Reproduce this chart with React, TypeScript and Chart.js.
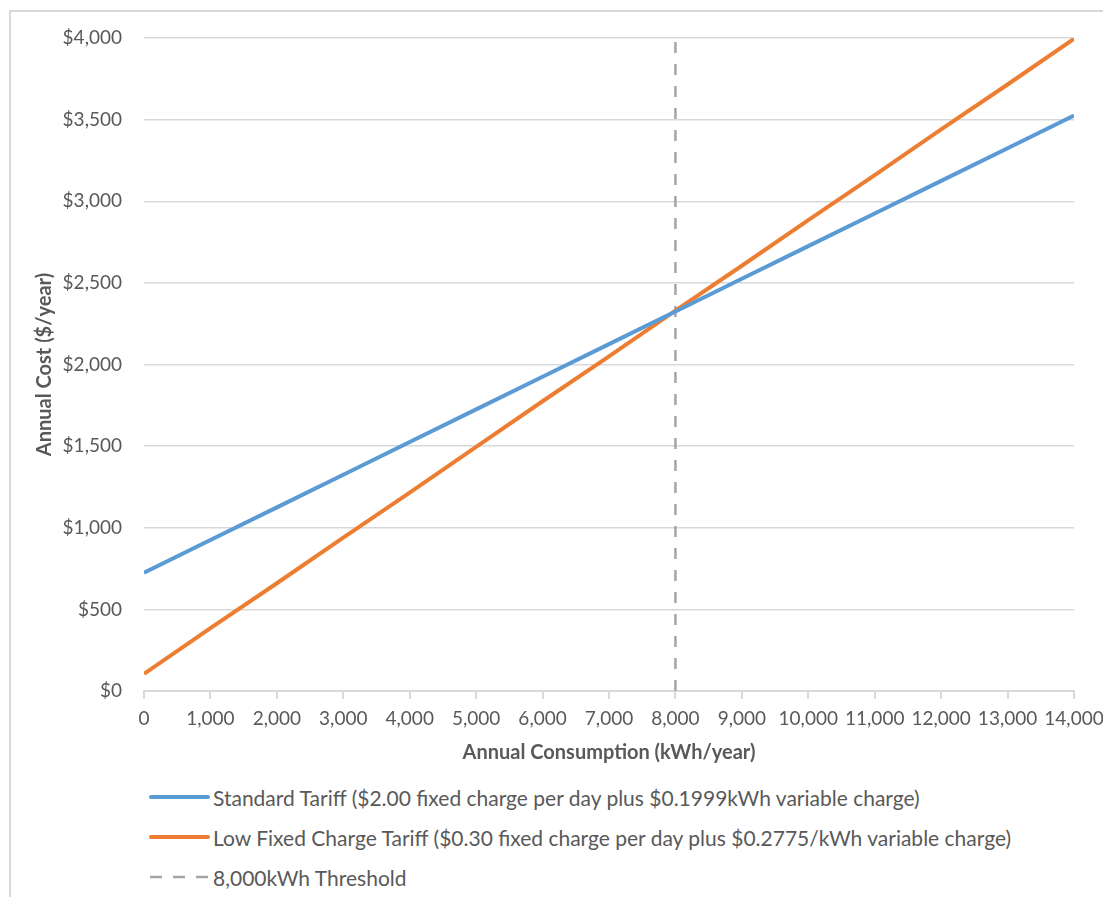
import React, { useEffect, useRef } from "react";
import { Chart, registerables } from "chart.js";

Chart.register(...registerables);

const consumption = [0, 1000, 2000, 3000, 4000, 5000, 6000, 7000, 8000, 9000, 10000, 11000, 12000, 13000, 14000];
const standardCost = [725, 925, 1125, 1325, 1525, 1725, 1925, 2125, 2325, 2525, 2725, 2925, 3125, 3325, 3525];
const lowFixedCost = [105, 385, 660, 940, 1215, 1495, 1775, 2050, 2330, 2605, 2885, 3160, 3440, 3715, 3995];
const thresholdX = [8000, 8000];
const thresholdY = [0, 4000];

const seriesNames = [
  "Standard Tariff ($2.00 fixed charge per day plus $0.1999kWh variable charge)",
  "Low Fixed Charge Tariff ($0.30 fixed charge per day plus $0.2775/kWh variable charge)",
  "8,000kWh Threshold",
];
const seriesColors = ["#5b9bd5", "#ed7d31", "#a5a5a5"];
const xTitle = "Annual Consumption (kWh/year)";
const yTitle = "Annual Cost ($/year)";

const FONT = "Lato, 'Open Sans', sans-serif";
const TEXT = "#595959";
const GRID = "#d9d9d9";

export default function App() {
  const ref = useRef<HTMLCanvasElement | null>(null);

  useEffect(() => {
    if (!ref.current) return;
    const chart = new Chart(ref.current, {
      type: "line",
      data: {
        datasets: [
          {
            label: seriesNames[0],
            data: consumption.map((x, i) => ({ x, y: standardCost[i] })),
            borderColor: seriesColors[0],
            backgroundColor: seriesColors[0],
            borderWidth: 4,
            pointRadius: 0,
            tension: 0,
          },
          {
            label: seriesNames[1],
            data: consumption.map((x, i) => ({ x, y: lowFixedCost[i] })),
            borderColor: seriesColors[1],
            backgroundColor: seriesColors[1],
            borderWidth: 4,
            pointRadius: 0,
            tension: 0,
          },
          {
            label: seriesNames[2],
            data: thresholdX.map((x, i) => ({ x, y: thresholdY[i] })),
            borderColor: seriesColors[2],
            backgroundColor: seriesColors[2],
            borderWidth: 2.5,
            borderDash: [11, 11],
            pointRadius: 0,
          },
        ],
      },
      options: {
        animation: false,
        responsive: false,
        devicePixelRatio: 1,
        layout: { padding: { left: 0, right: 56, top: 38, bottom: 0 } },
        plugins: {
          legend: { display: false },
          tooltip: { enabled: false },
        },
        scales: {
          x: {
            type: "linear",
            min: 0,
            max: 14000,
            afterFit: (s: any) => {
              s.height = 89;
            },
            ticks: {
              stepSize: 1000,
              color: TEXT,
              font: { family: FONT, size: 19 },
              padding: 8,
              maxRotation: 0,
              autoSkip: false,
              callback: (v: any) => Number(v).toLocaleString("en-US"),
            },
            grid: {
              drawOnChartArea: false,
              drawTicks: true,
              tickLength: 8,
              color: GRID,
              lineWidth: 2,
            },
            border: { display: true, color: GRID, width: 2 },
            title: {
              display: true,
              text: xTitle,
              color: TEXT,
              font: { family: FONT, size: 20, weight: "bold" },
              padding: { top: 0, bottom: 15 },
            },
          },
          y: {
            min: 0,
            max: 4000,
            afterFit: (s: any) => {
              s.width = 144;
            },
            ticks: {
              stepSize: 500,
              color: TEXT,
              font: { family: FONT, size: 19 },
              padding: 22,
              callback: (v: any) => "$" + Number(v).toLocaleString("en-US"),
            },
            grid: {
              drawTicks: false,
              color: GRID,
              lineWidth: 1.5,
            },
            border: { display: false },
            title: {
              display: true,
              text: yTitle,
              color: TEXT,
              font: { family: FONT, size: 20, weight: "bold" },
              padding: { top: 33, bottom: 0 },
            },
          },
        },
      },
    });
    return () => chart.destroy();
  }, []);

  const rowTops = [784, 824, 864];

  return (
    <div
      style={{
        position: "absolute",
        left: 0,
        top: 0,
        width: 1103,
        height: 897,
        overflow: "hidden",
        background: "#ffffff",
        fontFamily: FONT,
      }}
    >
      <div
        style={{
          position: "absolute",
          left: 9,
          top: 10,
          width: 1200,
          height: 1000,
          border: "2px solid " + GRID,
        }}
      />
      <canvas
        ref={ref}
        width={1130}
        height={780}
        style={{ position: "absolute", left: 0, top: 0, width: 1130, height: 780 }}
      />
      {seriesNames.map((name, i) => (
        <div
          key={name}
          style={{
            position: "absolute",
            left: 148,
            top: rowTops[i],
            height: 26,
            display: "flex",
            alignItems: "center",
            whiteSpace: "nowrap",
            color: TEXT,
            fontSize: 21,
          }}
        >
          <svg width={62} height={26} style={{ marginRight: 3 }}>
            <line
              x1={i === 2 ? 2 : 3}
              y1={13}
              x2={i === 2 ? 61 : 60}
              y2={13}
              stroke={seriesColors[i]}
              strokeWidth={i === 2 ? 2.5 : 4}
              strokeLinecap={i === 2 ? "butt" : "round"}
              strokeDasharray={i === 2 ? "12 11" : undefined}
            />
          </svg>
          <span>{name}</span>
        </div>
      ))}
    </div>
  );
}
